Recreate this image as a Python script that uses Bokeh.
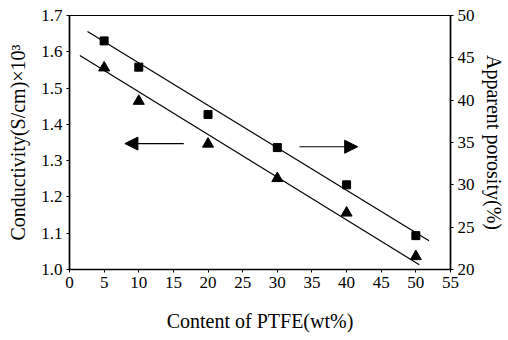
from bokeh.plotting import figure
from bokeh.models import (Range1d, LinearAxis, FixedTicker, Arrow, NormalHead,
                          PrintfTickFormatter)
from bokeh.embed import file_html
from bokeh.resources import INLINE

# ---- data ----
content = [5, 10, 20, 30, 40, 50]                          # wt% PTFE
porosity = [47.0, 43.9, 38.3, 34.4, 30.0, 24.0]            # % (right axis, squares)
conductivity = [1.556, 1.464, 1.346, 1.251, 1.156, 1.036]  # S/cm x10^3 (left axis, triangles)

por_fit_x = [2.6, 51.9]
por_fit_y = [48.1, 23.4]
cond_fit_x = [1.5, 50.5]
cond_fit_y = [1.590, 1.013]

x_ticks = [0, 5, 10, 15, 20, 25, 30, 35, 40, 45, 50, 55]
left_ticks = [1.0, 1.1, 1.2, 1.3, 1.4, 1.5, 1.6, 1.7]
right_ticks = [20, 25, 30, 35, 40, 45, 50]

FONT = "Liberation Serif"

p = figure(width=508, height=340, output_backend="svg", toolbar_location=None,
           x_range=Range1d(0, 55), y_range=Range1d(1.0, 1.7),
           min_border_left=69, min_border_right=58, min_border_top=15,
           min_border_bottom=71)
p.extra_y_ranges = {"por": Range1d(20, 50)}
p.grid.visible = False
p.outline_line_color = "black"
p.outline_line_width = 1.2

right = LinearAxis(y_range_name="por")
p.add_layout(right, "right")

p.xaxis.ticker = FixedTicker(ticks=x_ticks)
p.yaxis[0].ticker = FixedTicker(ticks=left_ticks)
p.yaxis[0].formatter = PrintfTickFormatter(format="%.1f")
right.ticker = FixedTicker(ticks=right_ticks)

p.xaxis.axis_label = "Content of PTFE(wt%)"
p.yaxis[0].axis_label = "Conductivity(S/cm)×10³"
right.axis_label = "Apparent porosity(%)"

p.axis.axis_line_color = "black"
p.axis.axis_line_width = 1.6
p.axis.major_tick_line_color = "black"
p.axis.major_tick_in = 0
p.axis.major_tick_out = 3
p.axis.minor_tick_line_color = None
p.axis.major_label_text_font = FONT
p.axis.major_label_text_font_size = "17px"
p.axis.major_label_text_color = "black"
p.axis.axis_label_text_font = FONT
p.axis.axis_label_text_font_size = "20px"
p.axis.axis_label_text_font_style = "normal"
p.axis.axis_label_text_color = "black"
p.axis.major_label_standoff = 4

p.xaxis.axis_label_standoff = 19
p.yaxis[0].axis_label_standoff = 9
right.axis_label_standoff = 5

# fit lines
p.line(por_fit_x, por_fit_y, line_color="black", line_width=1.2, y_range_name="por")
p.line(cond_fit_x, cond_fit_y, line_color="black", line_width=1.2)

# markers
p.scatter(content, porosity, marker="square", size=8, color="black", y_range_name="por")
p.scatter(content, conductivity, marker="triangle", size=11, color="black")

# arrows
p.add_layout(Arrow(x_start=16.5, y_start=1.347, x_end=8.0, y_end=1.347,
                   line_color="black", line_width=1.2,
                   end=NormalHead(size=13, fill_color="black", line_color="black")))
p.add_layout(Arrow(x_start=33.2, y_start=34.5, x_end=41.6, y_end=34.5,
                   y_range_name="por", line_color="black", line_width=1.2,
                   end=NormalHead(size=13, fill_color="black", line_color="black")))

open("out.html", "w").write(file_html(p, INLINE))
